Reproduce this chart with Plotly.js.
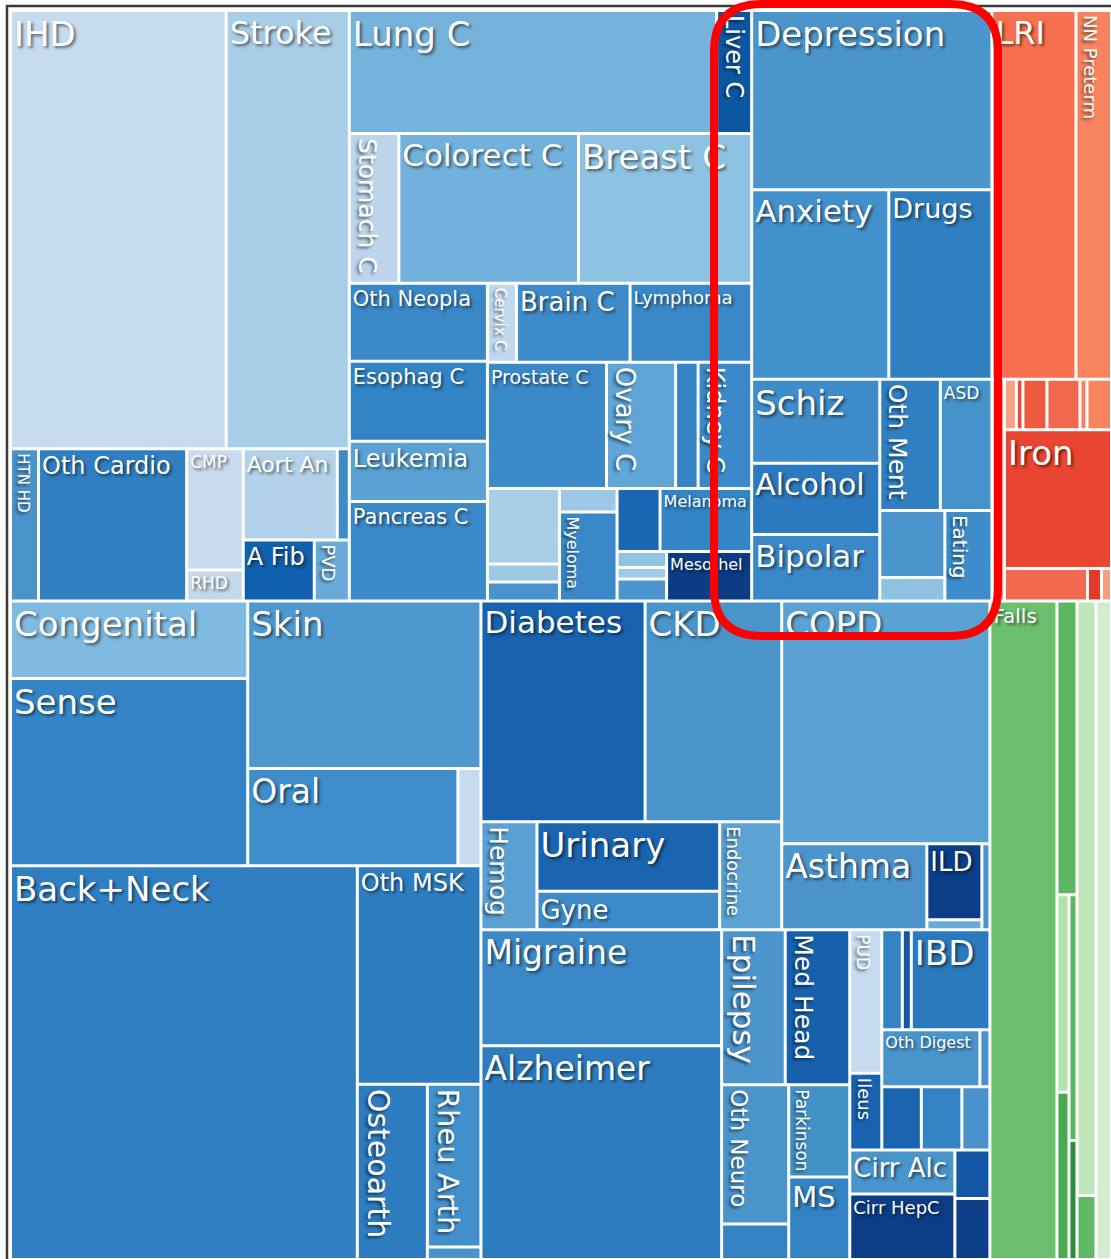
<!DOCTYPE html>
<html>
<head>
<meta charset="utf-8">
<script src="https://cdn.plot.ly/plotly-3.0.1.min.js"></script>
<style>
html,body{margin:0;padding:0;background:#fff;}
#chart{width:1111px;height:1259px;}
</style>
</head>
<body>
<div id="chart"></div>
<script>
// Each row: [id, parent, label, value]. Structural (grouping) nodes carry value 0;
// leaf values are the tile areas (relative units).
const frameNodes = [
  ["all", "", "", 0],
  ["top", "all", "", 0]
];

const cardioNodes = [
  ["cardio", "top", "Cardiovascular", 0],
  ["cardioTop", "cardio", "", 0],
  ["IHD", "cardioTop", "IHD", 94389],
  ["Stroke", "cardioTop", "Stroke", 53874],
  ["cardioBot", "cardio", "", 0],
  ["HTN HD", "cardioBot", "HTN HD", 4256],
  ["Oth Cardio", "cardioBot", "Oth Cardio", 22496],
  ["cmpCol", "cardioBot", "", 0],
  ["CMP", "cmpCol", "CMP", 6837],
  ["RHD", "cmpCol", "RHD", 1752],
  ["aortGrp", "cardioBot", "", 0],
  ["aortRow", "aortGrp", "", 0],
  ["Aort An", "aortRow", "Aort An", 8554],
  ["cv_x1", "aortRow", "", 1092],
  ["afibRow", "aortGrp", "", 0],
  ["A Fib", "afibRow", "A Fib", 4331],
  ["PVD", "afibRow", "PVD", 2135]
];

const neoplasmNodes = [
  ["neo", "top", "Neoplasms", 0],
  ["neoR1", "neo", "", 0],
  ["Lung C", "neoR1", "Lung C", 45141],
  ["Liver C", "neoR1", "Liver C", 4305],
  ["neoR2", "neo", "", 0],
  ["Stomach C", "neoR2", "Stomach C", 7400],
  ["Colorect C", "neoR2", "Colorect C", 26835],
  ["Breast C", "neoR2", "Breast C", 25864],
  ["neoLow", "neo", "", 0],
  ["neoLeft", "neoLow", "", 0],
  ["Oth Neopla", "neoLeft", "Oth Neopla", 10764],
  ["Esophag C", "neoLeft", "Esophag C", 11040],
  ["Leukemia", "neoLeft", "Leukemia", 8280],
  ["Pancreas C", "neoLeft", "Pancreas C", 13731],
  ["neoRight", "neoLow", "", 0],
  ["neoRa", "neoRight", "", 0],
  ["Cervix C", "neoRa", "Cervix C", 2291],
  ["Brain C", "neoRa", "Brain C", 8967],
  ["Lymphoma", "neoRa", "Lymphoma", 9599],
  ["neoRb", "neoRight", "", 0],
  ["Prostate C", "neoRb", "Prostate C", 14994],
  ["Ovary C", "neoRb", "Ovary C", 8694],
  ["ne_x1", "neoRb", "", 2835],
  ["Kidney C", "neoRb", "Kidney C", 6741],
  ["neoRc", "neoRight", "", 0],
  ["neoC1", "neoRc", "", 0],
  ["ne_x2", "neoC1", "", 5436],
  ["ne_x3", "neoC1", "", 1296],
  ["ne_x4", "neoC1", "", 1368],
  ["neoC2", "neoRc", "", 0],
  ["ne_x5", "neoC2", "", 1351],
  ["Myeloma", "neoC2", "Myeloma", 5118],
  ["neoC3", "neoRc", "", 0],
  ["neoC3t", "neoC3", "", 0],
  ["ne_x6", "neoC3t", "", 2709],
  ["Melanoma", "neoC3t", "Melanoma", 5765],
  ["neoC3b", "neoC3", "", 0],
  ["neoStack", "neoC3b", "", 0],
  ["ne_x7", "neoStack", "", 792],
  ["ne_x8", "neoStack", "", 569],
  ["ne_x9", "neoStack", "", 1089],
  ["Mesothel", "neoC3b", "Mesothel", 4208]
];

const mentalNodes = [
  ["mental", "top", "Mental", 0],
  ["Depression", "mental", "Depression", 42960],
  ["mentRow", "mental", "", 0],
  ["Anxiety", "mentRow", "Anxiety", 25962],
  ["Drugs", "mentRow", "Drugs", 19519],
  ["mentLow", "mental", "", 0],
  ["mentLeft", "mentLow", "", 0],
  ["Schiz", "mentLeft", "Schiz", 10752],
  ["Alcohol", "mentLeft", "Alcohol", 9088],
  ["Bipolar", "mentLeft", "Bipolar", 8512],
  ["mentRight", "mentLow", "", 0],
  ["mentRt", "mentRight", "", 0],
  ["Oth Ment", "mentRt", "Oth Ment", 7926],
  ["ASD", "mentRt", "ASD", 6747],
  ["mentRb", "mentRight", "", 0],
  ["mentStack", "mentRb", "", 0],
  ["me_x1", "mentStack", "", 4355],
  ["me_x2", "mentStack", "", 1528],
  ["Eating", "mentRb", "Eating", 4254]
];

const communicableNodes = [
  ["cmnn", "top", "Communicable", 0],
  ["cmnnTop", "cmnn", "", 0],
  ["LRI", "cmnnTop", "LRI", 30954],
  ["NN Preterm", "cmnnTop", "NN Preterm", 13082],
  ["cmnnLow", "cmnn", "", 0],
  ["cm_x0", "cmnnLow", "", 2769],
  ["cmnnLowR", "cmnnLow", "", 0],
  ["cmnnSmall", "cmnnLowR", "", 0],
  ["cm_x1", "cmnnSmall", "", 606],
  ["cm_x2", "cmnnSmall", "", 328],
  ["cm_x3", "cmnnSmall", "", 1212],
  ["cm_x4", "cmnnSmall", "", 1667],
  ["cm_x5", "cmnnSmall", "", 354],
  ["cm_x6", "cmnnSmall", "", 1237],
  ["Iron", "cmnnLowR", "Iron", 14820],
  ["cmnnBot", "cmnnLowR", "", 0],
  ["cm_x7", "cmnnBot", "", 2698],
  ["cm_x8", "cmnnBot", "", 455],
  ["cm_x9", "cmnnBot", "", 325]
];

const leftNodes = [
  ["bottom", "all", "", 0],
  ["left", "bottom", "", 0],
  ["otherNcd", "left", "Other NCD", 0],
  ["onA", "otherNcd", "", 0],
  ["Congenital", "onA", "Congenital", 18368],
  ["Sense", "onA", "Sense", 44319],
  ["onB", "otherNcd", "", 0],
  ["Skin", "onB", "Skin", 39028],
  ["oralRow", "onB", "", 0],
  ["Oral", "oralRow", "Oral", 20370],
  ["on_x1", "oralRow", "", 2231],
  ["msk", "left", "Musculoskeletal", 0],
  ["Back+Neck", "msk", "Back+Neck", 136348],
  ["mskRight", "msk", "", 0],
  ["Oth MSK", "mskRight", "Oth MSK", 26985],
  ["mskBot", "mskRight", "", 0],
  ["Osteoarth", "mskBot", "Osteoarth", 12250],
  ["rheuCol", "mskBot", "", 0],
  ["Rheu Arth", "rheuCol", "Rheu Arth", 8694],
  ["ms_x1", "rheuCol", "", 669]
];

const midNodes = [
  ["mid", "bottom", "", 0],
  ["midTop", "mid", "", 0],
  ["diabGrp", "midTop", "Diabetes/urogenital", 0],
  ["diabRow", "diabGrp", "", 0],
  ["Diabetes", "diabRow", "Diabetes", 36162],
  ["CKD", "diabRow", "CKD", 30098],
  ["diabBot", "diabGrp", "", 0],
  ["Hemog", "diabBot", "Hemog", 6048],
  ["urCol", "diabBot", "", 0],
  ["Urinary", "urCol", "Urinary", 12684],
  ["Gyne", "urCol", "Gyne", 7026],
  ["Endocrine", "diabBot", "Endocrine", 6696],
  ["resp", "midTop", "Chronic respiratory", 0],
  ["COPD", "resp", "COPD", 50440],
  ["respRow", "resp", "", 0],
  ["Asthma", "respRow", "Asthma", 12470],
  ["ildCol", "respRow", "", 0],
  ["ILD", "ildCol", "ILD", 4180],
  ["rs_x1", "ildCol", "", 550],
  ["rs_x2", "respRow", "", 688],
  ["midBot", "mid", "", 0],
  ["migCol", "midBot", "", 0],
  ["Migraine", "migCol", "Migraine", 27898],
  ["Alzheimer", "migCol", "Alzheimer", 51347],
  ["neuroRight", "midBot", "", 0],
  ["neuTop", "neuroRight", "", 0],
  ["Epilepsy", "neuTop", "Epilepsy", 9843],
  ["Med Head", "neuTop", "Med Head", 9998],
  ["neuBot", "neuroRight", "", 0],
  ["othNeuCol", "neuBot", "", 0],
  ["Oth Neuro", "othNeuCol", "Oth Neuro", 9313],
  ["nu_x1", "othNeuCol", "", 2379],
  ["parkCol", "neuBot", "", 0],
  ["Parkinson", "parkCol", "Parkinson", 5612],
  ["MS", "parkCol", "MS", 5033],
  ["dig", "midBot", "", 0],
  ["digestive", "dig", "Digestive", 0],
  ["pudCol", "digestive", "", 0],
  ["PUD", "pudCol", "PUD", 4592],
  ["Ileus", "pudCol", "Ileus", 2448],
  ["digRight", "digestive", "", 0],
  ["digR1", "digRight", "", 0],
  ["dg_x1", "digR1", "", 2050],
  ["dg_x2", "digR1", "", 900],
  ["IBD", "digR1", "IBD", 7850],
  ["digR2", "digRight", "", 0],
  ["Oth Digest", "digR2", "Oth Digest", 5586],
  ["dg_x3", "digR2", "", 570],
  ["digR3", "digRight", "", 0],
  ["dg_x4", "digR3", "", 2489],
  ["dg_x5", "digR3", "", 2552],
  ["dg_x6", "digR3", "", 1764],
  ["cirr", "dig", "Cirrhosis", 0],
  ["cirCol", "cirr", "", 0],
  ["Cirr Alc", "cirCol", "Cirr Alc", 4620],
  ["Cirr HepC", "cirCol", "Cirr HepC", 6878],
  ["cirRight", "cirr", "", 0],
  ["ci_x1", "cirRight", "", 1698],
  ["ci_x2", "cirRight", "", 2135]
];

const injuryNodes = [
  ["green", "bottom", "Injuries", 0],
  ["greenH", "green", "", 0],
  ["Falls", "greenH", "Falls", 44086],
  ["gCol2", "greenH", "", 0],
  ["gr_x1", "gCol2", "", 5870],
  ["gCol2b", "gCol2", "", 0],
  ["gSubL", "gCol2b", "", 0],
  ["gr_x2", "gSubL", "", 2370],
  ["gr_x3", "gSubL", "", 2004],
  ["gSubR", "gCol2b", "", 0],
  ["gr_x4", "gSubR", "", 1964],
  ["gr_x5", "gSubR", "", 952],
  ["gCol3", "greenH", "", 0],
  ["gr_x6", "gCol3", "", 11286],
  ["gr_x7", "gCol3", "", 1216],
  ["gr_x8", "greenH", "", 10199]
];

// ---- styles (kept apart from the data) ----
const tileColors = {
  "IHD":"#c6dbef","Stroke":"#a8cde6","HTN HD":"#4b93cb","Oth Cardio":"#2f7fc1","CMP":"#c9dbee","RHD":"#c4d8ec",
  "Aort An":"#b3d2e9","cv_x1":"#3d8bc9","A Fib":"#1160ae","PVD":"#6aaad8",
  "Lung C":"#76b3dc","Liver C":"#0c56a0","Stomach C":"#bcd5eb","Colorect C":"#72b1dc","Breast C":"#8ec2e2",
  "Oth Neopla":"#3a88c8","Esophag C":"#3384c5","Leukemia":"#5aa2d4","Pancreas C":"#3b89c8",
  "Cervix C":"#c2d8ec","Brain C":"#3d8bc9","Lymphoma":"#3a88c8","Prostate C":"#3b89c9","Ovary C":"#5fa5d6",
  "ne_x1":"#3584c5","Kidney C":"#3b89c8","ne_x2":"#a9cfe8","ne_x3":"#9ec9e5","ne_x4":"#4a93cc","ne_x5":"#9cc8e5",
  "Myeloma":"#3a88c8","ne_x6":"#1a66b2","Melanoma":"#3384c5","ne_x7":"#90c2e2","ne_x8":"#a0cbe6","ne_x9":"#4d95cd",
  "Mesothel":"#0b3c84",
  "Depression":"#4b95cd","Anxiety":"#4391cb","Drugs":"#2f7fc1","Schiz":"#3e8cca","Alcohol":"#2b7abf","Bipolar":"#3a88c8",
  "Oth Ment":"#2f7fc1","ASD":"#4692cb","me_x1":"#4b94cc","me_x2":"#8fc1e1","Eating":"#3e8cca",
  "LRI":"#f7704f","NN Preterm":"#f7845e","cm_x0":"#f5a184","cm_x1":"#f5a184","cm_x2":"#ea4b34","cm_x3":"#ec5a40",
  "cm_x4":"#f0694c","cm_x5":"#f57f5e","cm_x6":"#f7845e","Iron":"#ea4530","cm_x7":"#f26a50","cm_x8":"#e23a2a",
  "cm_x9":"#f7a080",
  "Congenital":"#7fbae0","Sense":"#3585c6","Skin":"#4f98cf","Oral":"#3f8dcb","on_x1":"#c6dbef",
  "Back+Neck":"#2f7fc2","Oth MSK":"#2e7dc1","Osteoarth":"#2e7cc0","Rheu Arth":"#4290cb","ms_x1":"#4a94cc",
  "Diabetes":"#1862b0","CKD":"#4a94cc","Hemog":"#5aa0d3","Urinary":"#1a64b0","Gyne":"#3d8bc9","Endocrine":"#5ca3d4",
  "COPD":"#5aa2d4","Asthma":"#4b94cc","ILD":"#0b3e86","rs_x1":"#6aaad8","rs_x2":"#4a94cc",
  "Migraine":"#3b89c9","Alzheimer":"#2d7cc0","Epilepsy":"#4b94cc","Med Head":"#1660ae","Oth Neuro":"#4a94cc",
  "nu_x1":"#3282c4","Parkinson":"#4292c6","MS":"#3282c4",
  "PUD":"#c6dbef","Ileus":"#1862b0","dg_x1":"#3282c4","dg_x2":"#1356a6","IBD":"#2b79be","Oth Digest":"#4a94cc",
  "dg_x3":"#4a92cc","dg_x4":"#1a64b0","dg_x5":"#3282c4","dg_x6":"#4a92cc",
  "Cirr Alc":"#4a94cc","Cirr HepC":"#0b3e86","ci_x1":"#1356a6","ci_x2":"#0b3e86",
  "Falls":"#6cbf6e","gr_x1":"#5cb85f","gr_x2":"#b4dfae","gr_x3":"#4aa84f","gr_x4":"#5cb85f","gr_x5":"#2e8b3e",
  "gr_x6":"#c2e6bc","gr_x7":"#62b965","gr_x8":"#d4edce"
};

// label font sizes (px) as seen in the picture
const labelSize = {
  "IHD":34,"Stroke":32,"Lung C":34,"Colorect C":31,"Breast C":34,"Oth Cardio":24,"CMP":17,"RHD":17,
  "Aort An":22,"A Fib":24,"Oth Neopla":21,"Brain C":26,"Lymphoma":18,"Esophag C":21,"Leukemia":24,
  "Pancreas C":21,"Prostate C":19,"Melanoma":16,"Mesothel":16,"Depression":34,"Anxiety":31,"Drugs":27,
  "Schiz":34,"Alcohol":30,"Bipolar":31,"ASD":17,"LRI":32,"Iron":34,"Congenital":34,"Sense":34,"Skin":34,
  "Oral":33,"Back+Neck":34,"Oth MSK":24,"Diabetes":31,"CKD":34,"Urinary":34,"Gyne":26,"COPD":34,
  "Asthma":33,"ILD":26,"Migraine":33,"Alzheimer":33,"IBD":34,"Oth Digest":16,"Cirr Alc":26,
  "Cirr HepC":18,"MS":29,"Falls":20
};
// labels that run top-to-bottom in the picture, with their sizes
const verticalSize = {
  "Stomach C":25,"Liver C":24,"Cervix C":15,"Ovary C":26,"Kidney C":24,"Myeloma":16,"HTN HD":15,"PVD":18,
  "Oth Ment":25,"Eating":20,"NN Preterm":18,"Hemog":25,"Endocrine":18,"Osteoarth":30,"Rheu Arth":29,
  "Epilepsy":31,"Med Head":25,"Oth Neuro":23,"Parkinson":17,"PUD":17,"Ileus":18
};

const allNodes = [].concat(frameNodes, cardioNodes, neoplasmNodes, mentalNodes, communicableNodes,
                           leftNodes, midNodes, injuryNodes);
const ids = allNodes.map(r => r[0]);
const parents = allNodes.map(r => r[1]);
const labels = allNodes.map(r => r[2]);
const values = allNodes.map(r => r[3]);
const hasKids = new Set(parents);
const templates = ids.map((id, i) => (hasKids.has(id) || !labels[i]) ? "" : "%{label}");
const colors = ids.map(id => tileColors[id] || "#ffffff");
const sizes = ids.map(id => labelSize[id] || verticalSize[id] || 20);

const ML = 11, MT = 11, PW = 1100, PH = 1248;
const px = x => (x - ML) / PW;
const py = y => 1 - (y - MT) / PH;
function roundRectPath(x0, y0, x1, y1, r) {
  const P = (x, y) => px(x).toFixed(5) + "," + py(y).toFixed(5);
  return "M" + P(x0 + r, y0) + " L" + P(x1 - r, y0) + " Q" + P(x1, y0) + " " + P(x1, y0 + r) +
         " L" + P(x1, y1 - r) + " Q" + P(x1, y1) + " " + P(x1 - r, y1) +
         " L" + P(x0 + r, y1) + " Q" + P(x0, y1) + " " + P(x0, y1 - r) +
         " L" + P(x0, y0 + r) + " Q" + P(x0, y0) + " " + P(x0 + r, y0) + " Z";
}

const trace = {
  type: "treemap",
  ids: ids,
  parents: parents,
  labels: labels,
  values: values,
  branchvalues: "remainder",
  sort: false,
  texttemplate: templates,
  textposition: "top left",
  textfont: {family: "DejaVu Sans, Verdana, sans-serif", size: sizes, color: "#ffffff",
             shadow: "2px 2px 3px rgba(0,0,0,0.55)"},
  marker: {colors: colors, line: {color: "#ffffff", width: 2},
           pad: {t: 0, l: 0, r: 0, b: 0}},
  tiling: {packing: "dice-slice", pad: 1},
  pathbar: {visible: false},
  hoverinfo: "label+value",
  root: {color: "#ffffff"}
};

const layout = {
  width: 1111, height: 1259,
  margin: {l: ML, r: 0, t: MT, b: 0},
  paper_bgcolor: "#ffffff",
  showlegend: false,
  shapes: [
    {type: "rect", xref: "paper", yref: "paper", x0: px(7), x1: px(1125), y0: py(1275), y1: py(6),
     line: {color: "#3a3a3a", width: 2.5}, fillcolor: "rgba(0,0,0,0)", layer: "above"},
    {type: "path", xref: "paper", yref: "paper", path: roundRectPath(714, 4, 998, 636, 48),
     line: {color: "#ff0000", width: 8}, fillcolor: "rgba(0,0,0,0)", layer: "above"}
  ]
};

// Turn the labels of tall, narrow tiles so they run top-to-bottom, as in the picture.
function rotateNarrowLabels(gd) {
  const slices = gd.querySelectorAll("g.slice");
  slices.forEach(g => {
    const txt = g.querySelector("text.slicetext");
    const surf = g.querySelector("path.surface");
    if (!txt || !surf) return;
    const name = txt.textContent;
    if (!(name in verticalSize)) return;
    const bb = surf.getBBox();
    let fs = verticalSize[name];
    txt.setAttribute("x", 0);
    txt.setAttribute("y", 0);
    txt.setAttribute("text-anchor", "start");
    txt.querySelectorAll("tspan").forEach(t => { t.setAttribute("x", 0); t.removeAttribute("dy"); });
    txt.style.fontSize = fs + "px";
    let len = txt.getComputedTextLength();
    const maxLen = bb.height - 8;
    if (len > maxLen) { fs = fs * maxLen / len; txt.style.fontSize = fs + "px"; }
    if (fs > bb.width - 4) { fs = bb.width - 4; txt.style.fontSize = fs + "px"; }
    const tx = bb.x + 3 + 0.24 * fs;
    const ty = bb.y + 4;
    txt.setAttribute("transform", "translate(" + tx + "," + ty + ") rotate(90)");
  });
}

Plotly.newPlot("chart", [trace], layout, {displayModeBar: false, staticPlot: true})
  .then(gd => rotateNarrowLabels(gd));
</script>
</body>
</html>
